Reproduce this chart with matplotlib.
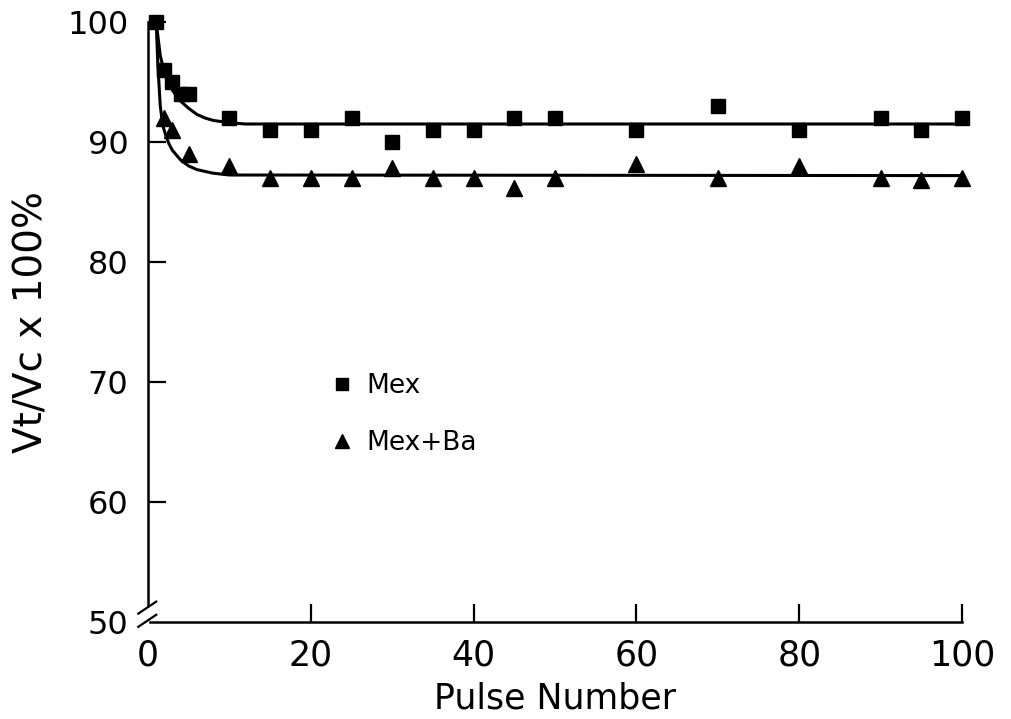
import matplotlib.pyplot as plt
from matplotlib.lines import Line2D

plt.rcParams['font.family'] = ['DejaVu Sans']

mex_x = [1, 2, 3, 4, 5, 10, 15, 20, 25, 30, 35, 40, 45, 50, 60, 70, 80, 90, 95, 100]
mex_y = [100, 96, 95, 94, 94, 92, 91, 91, 92, 90, 91, 91, 92, 92, 91, 93, 91, 92, 91, 92]

ba_x = [2, 3, 5, 10, 15, 20, 25, 30, 35, 40, 45, 50, 60, 70, 80, 90, 95, 100]
ba_y = [92, 91, 89, 88, 87, 87, 87, 87.8, 87, 87, 86.2, 87, 88.2, 87, 88, 87, 86.8, 87]

# fitted curves as drawn (knots)
mex_fit_x = [1, 1.5, 2, 2.5, 3, 4, 5, 6, 7, 8, 10, 12, 100]
mex_fit_y = [100, 97.2, 95.8, 94.9, 94.3, 93.4, 92.8, 92.3, 92.0, 91.8, 91.6, 91.5, 91.5]
ba_fit_x = [1, 1.2, 1.5, 1.8, 2.2, 2.6, 3, 3.5, 4, 5, 6, 8, 10, 100]
ba_fit_y = [100, 96.5, 93.0, 91.4, 90.5, 89.8, 89.3, 88.9, 88.5, 88.0, 87.7, 87.4, 87.25, 87.2]

fig = plt.figure(figsize=(10.12, 7.19), dpi=100)
ax = fig.add_axes([0.1463, 0.1349, 0.8043, 0.8345])

ax.plot(mex_fit_x, mex_fit_y, color="black", linewidth=2.2, clip_on=False)
ax.plot(ba_fit_x, ba_fit_y, color="black", linewidth=2.2, clip_on=False)
ax.plot(mex_x, mex_y, linestyle="none", marker="s", markersize=10, color="black", clip_on=False)
ax.plot(ba_x, ba_y, linestyle="none", marker="^", markersize=11, color="black", clip_on=False)

ax.set_xlim(0, 100)
ax.set_ylim(50, 100)
ax.set_xticks([0, 20, 40, 60, 80, 100])
ax.set_yticks([50, 60, 70, 80, 90, 100])
ax.tick_params(axis="both", direction="in", length=13, width=1.6)
ax.tick_params(axis="x", pad=12, labelsize=25)
ax.tick_params(axis="y", pad=14, labelsize=23)
ax.xaxis.get_major_ticks()[0].tick1line.set_visible(False)
ax.yaxis.get_major_ticks()[0].tick1line.set_visible(False)

ax.spines["top"].set_visible(False)
ax.spines["right"].set_visible(False)
for s in ["left", "bottom"]:
    ax.spines[s].set_linewidth(1.8)
ax.spines["left"].set_bounds(51.4, 100)
ax.spines["bottom"].set_bounds(0.3, 100)

# axis break marks
for dy in [0.0, 0.022]:
    ax.plot([-0.012, 0.01], [0.0 + dy - 0.008, 0.012 + dy], transform=ax.transAxes,
            color="black", linewidth=1.6, clip_on=False)

ax.set_xlabel("Pulse Number", fontsize=25, labelpad=6)
ax.set_ylabel("Vt/Vc x 100%", fontsize=28, labelpad=12)

handles = [Line2D([], [], linestyle="none", marker="s", markersize=9, color="black"),
           Line2D([], [], linestyle="none", marker="^", markersize=10, color="black")]
ax.legend(handles, ["Mex", "Mex+Ba"], loc="upper left", bbox_to_anchor=(0.19, 0.455),
          frameon=False, fontsize=19, handletextpad=0.3, labelspacing=1.2, handlelength=1.2)

fig.savefig("out.png", dpi=100)
